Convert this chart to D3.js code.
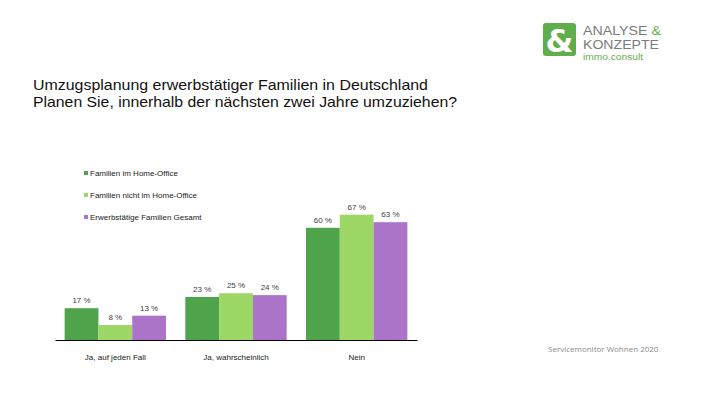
<!DOCTYPE html>
<html>
<head>
<meta charset="utf-8">
<script src="https://cdn.jsdelivr.net/npm/d3@7"></script>
<style>
  body { margin: 0; background: #fff; }
  svg { display: block; }
</style>
</head>
<body>
<div id="chart"></div>
<script>
// data
let categories = ["Ja, auf jeden Fall", "Ja, wahrscheinlich", "Nein"];
let seriesNames = ["Familien im Home-Office", "Familien nicht im Home-Office", "Erwerbstätige Familien Gesamt"];
let homeOffice = [17, 23, 60];
let nichtHomeOffice = [8, 25, 67];
let gesamt = [13, 24, 63];
let colors = ["#4ea34b", "#9dd866", "#ab74c8"];

let width = 710, height = 399;
let svg = d3.select("#chart").append("svg")
    .attr("width", width)
    .attr("height", height);

let font = "Liberation Sans, Arial, sans-serif";
let titleFont = "'Liberation Sans', Arial, sans-serif";

// Title
svg.append("text")
    .attr("x", 33).attr("y", 89.5)
    .attr("font-family", titleFont)
    .attr("font-size", "14.5px")
    .attr("fill", "#111")
    .attr("textLength", 395).attr("lengthAdjust", "spacingAndGlyphs")
    .text("Umzugsplanung erwerbstätiger Familien in Deutschland");
svg.append("text")
    .attr("x", 33).attr("y", 106.5)
    .attr("font-family", titleFont)
    .attr("font-size", "14.5px")
    .attr("fill", "#111")
    .attr("textLength", 424).attr("lengthAdjust", "spacingAndGlyphs")
    .text("Planen Sie, innerhalb der nächsten zwei Jahre umzuziehen?");

// Logo
let logo = svg.append("g");
let logoFont = "'Liberation Sans', Arial, sans-serif";
logo.append("rect")
    .attr("x", 543).attr("y", 23).attr("width", 33).attr("height", 33)
    .attr("rx", 3).attr("fill", "#5fae4c");
logo.append("text")
    .attr("x", 559.5).attr("y", 52)
    .attr("text-anchor", "middle")
    .attr("font-family", "DejaVu Sans, sans-serif")
    .attr("font-weight", "bold")
    .attr("font-size", "32px")
    .attr("fill", "#fff")
    .text("&");
let l1 = logo.append("text")
    .attr("x", 583).attr("y", 34.5)
    .attr("font-family", logoFont)
    .attr("font-size", "12px")
    .attr("fill", "#7a7a7a")
    .attr("textLength", 78).attr("lengthAdjust", "spacingAndGlyphs");
l1.append("tspan").text("ANALYSE ");
l1.append("tspan").attr("fill", "#5fae4c").text("&");
logo.append("text")
    .attr("x", 583).attr("y", 49)
    .attr("font-family", logoFont)
    .attr("font-size", "12px")
    .attr("fill", "#7a7a7a")
    .attr("textLength", 76).attr("lengthAdjust", "spacingAndGlyphs")
    .text("KONZEPTE");
logo.append("text")
    .attr("x", 583).attr("y", 59.5)
    .attr("font-family", logoFont)
    .attr("font-size", "8.5px")
    .attr("fill", "#5fae4c")
    .attr("textLength", 60).attr("lengthAdjust", "spacingAndGlyphs")
    .text("immo.consult");

// Chart area
let x0 = d3.scaleBand()
    .domain(categories)
    .range([55, 417])
    .paddingInner(0.16)
    .paddingOuter(0.08);
let x1 = d3.scaleBand()
    .domain(seriesNames)
    .range([0, x0.bandwidth()]);
let y = d3.scaleLinear()
    .domain([0, 100])
    .range([340, 153]);

let series = [homeOffice, nichtHomeOffice, gesamt];
let rows = categories.map((c, i) => ({
    cat: c,
    vals: seriesNames.map((s, j) => ({ key: s, value: series[j][i], color: colors[j] }))
}));

let groups = svg.append("g").selectAll("g")
    .data(rows)
    .enter().append("g")
    .attr("transform", d => `translate(${x0(d.cat)},0)`);

groups.selectAll("rect")
    .data(d => d.vals)
    .enter().append("rect")
    .attr("x", d => x1(d.key))
    .attr("y", d => y(d.value))
    .attr("width", x1.bandwidth())
    .attr("height", d => y(0) - y(d.value))
    .attr("fill", d => d.color);

groups.selectAll("text")
    .data(d => d.vals)
    .enter().append("text")
    .attr("x", d => x1(d.key) + x1.bandwidth() / 2)
    .attr("y", d => y(d.value) - 5)
    .attr("text-anchor", "middle")
    .attr("font-family", font)
    .attr("font-size", "8px")
    .attr("fill", "#404040")
    .text(d => d.value + " %");

// X axis
let xAxis = svg.append("g")
    .attr("transform", "translate(0,340)")
    .call(d3.axisBottom(x0).tickSize(0).tickSizeOuter(0).tickPadding(14));
xAxis.select(".domain").attr("stroke", "#000").attr("stroke-width", 1.2);
xAxis.selectAll("text")
    .attr("font-family", font)
    .attr("font-size", "8px")
    .attr("fill", "#222");

// Legend
let legend = svg.append("g").selectAll("g")
    .data(seriesNames)
    .enter().append("g")
    .attr("transform", (d, i) => `translate(84,${173 + i * 22})`);
legend.append("rect")
    .attr("x", 0).attr("y", -2)
    .attr("width", 4).attr("height", 4)
    .attr("fill", (d, i) => colors[i]);
legend.append("text")
    .attr("x", 6).attr("y", 2.8)
    .attr("font-family", font)
    .attr("font-size", "8px")
    .attr("fill", "#222")
    .text(d => d);

// Footer
svg.append("text")
    .attr("x", 548).attr("y", 352)
    .attr("font-family", "'Open Sans', sans-serif")
    .attr("font-size", "8px")
    .attr("fill", "#8a8a8a")
    .text("Servicemonitor Wohnen 2020");
</script>
</body>
</html>
